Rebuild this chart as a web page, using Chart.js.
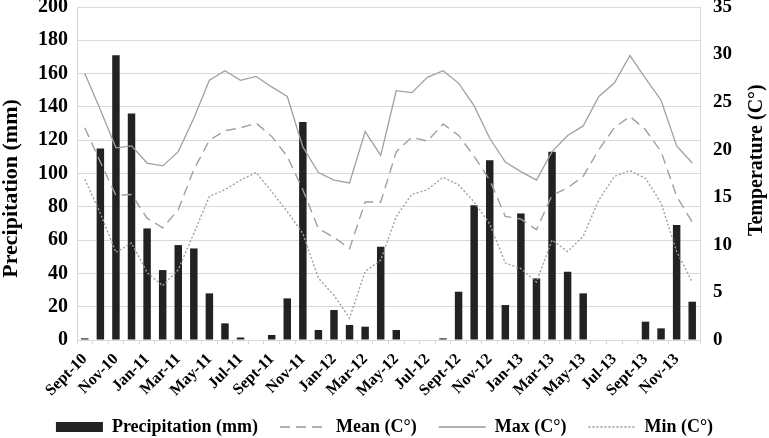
<!DOCTYPE html>
<html>
<head>
<meta charset="utf-8">
<script src="https://cdn.jsdelivr.net/npm/chart.js@4.4.1/dist/chart.umd.min.js"></script>
<style>
  html, body { margin: 0; padding: 0; background: #fff; }
</style>
</head>
<body>
<canvas id="climate" width="769" height="438"></canvas>
<script>
// monthly series, Sept-10 .. Dec-13
const months = [
  'Sept-10','Oct-10','Nov-10','Dec-10',
  'Jan-11','Feb-11','Mar-11','Apr-11','May-11','Jun-11','Jul-11','Aug-11','Sept-11','Oct-11','Nov-11','Dec-11',
  'Jan-12','Feb-12','Mar-12','Apr-12','May-12','Jun-12','Jul-12','Aug-12','Sept-12','Oct-12','Nov-12','Dec-12',
  'Jan-13','Feb-13','Mar-13','Apr-13','May-13','Jun-13','Jul-13','Aug-13','Sept-13','Oct-13','Nov-13','Dec-13'
];
const precipitation = [1,115,171,136, 67,42,57,55,28,10,1.5,0,3,25,131,6, 18,9,8,56,6,0,0,1,29,81,108,21, 76,37,113,41,28,0,0,0,11,7,69,23];
const tMean = [22.3,18.7,15.2,15.3, 12.8,11.8,13.7,17.9,21.0,22.0,22.3,22.8,21.4,19.3,15.8,11.7, 10.8,9.6,14.5,14.5,19.8,21.3,20.9,22.7,21.5,19.3,16.8,13.0, 12.7,11.6,15.2,16.0,17.2,20.0,22.3,23.5,22.1,19.8,15.1,12.4];
const tMax  = [28.0,24.2,20.2,20.4, 18.6,18.3,19.8,23.3,27.3,28.3,27.3,27.7,26.6,25.6,20.3,17.6, 16.8,16.5,21.9,19.4,26.2,26.0,27.6,28.3,27.0,24.6,21.2,18.7, 17.7,16.8,19.8,21.5,22.5,25.6,27.0,29.9,27.5,25.2,20.4,18.6];
const tMin  = [16.9,13.3,9.2,10.2, 7.1,5.7,7.4,11.2,15.1,15.8,16.8,17.6,15.6,13.5,11.2,6.5, 4.7,2.3,7.2,8.4,13.0,15.3,15.8,17.1,16.3,14.5,12.2,8.1, 7.5,6.1,10.5,9.3,10.9,14.7,17.2,17.8,17.0,14.4,9.3,6.1];

const SERIF = "'Liberation Serif', 'Times New Roman', serif";
const GRID = '#d9d9d9';
const LINE = '#a0a0a0';

// axis titles: both read bottom-to-top like the original
const axisTitles = {
  id: 'axisTitles',
  afterDraw(chart) {
    const { ctx, chartArea } = chart;
    const h = chartArea.bottom - chartArea.top;
    ctx.save();
    ctx.fillStyle = '#000';
    ctx.textAlign = 'center';
    ctx.textBaseline = 'middle';
    ctx.font = 'bold 22px ' + SERIF;
    ctx.translate(11, chartArea.top + h * 0.545);
    ctx.rotate(-Math.PI / 2);
    ctx.fillText('Precipitation (mm)', 0, 0);
    ctx.restore();
    ctx.save();
    ctx.fillStyle = '#000';
    ctx.textAlign = 'center';
    ctx.textBaseline = 'middle';
    ctx.font = 'bold 20px ' + SERIF;
    ctx.translate(chart.width - 12, chartArea.top + h * 0.46);
    ctx.rotate(-Math.PI / 2);
    ctx.fillText('Temperature (C\u00B0)', 0, 0);
    ctx.restore();
  }
};

// legend samples: keep the dash pattern of each line
const legendLabels = chart => {
  const items = Chart.defaults.plugins.legend.labels.generateLabels(chart);
  items.forEach(it => {
    const ds = chart.data.datasets[it.datasetIndex];
    if (ds.type === 'line') {
      it.lineDash = ds.borderDash || [];
      it.lineWidth = 2;
      it.strokeStyle = '#b0b0b0';
    }
  });
  return items.sort((a, b) => a.datasetIndex - b.datasetIndex);
};

new Chart(document.getElementById('climate'), {
  data: {
    labels: months,
    datasets: [
      { type: 'bar', label: 'Precipitation (mm)', data: precipitation, yAxisID: 'y',
        backgroundColor: '#222', borderWidth: 0, barPercentage: 0.48, categoryPercentage: 1,
        pointStyle: 'rect', order: 2 },
      { type: 'line', label: 'Mean (C\u00B0)', data: tMean, yAxisID: 'y1',
        borderColor: LINE, borderWidth: 1.4, borderDash: [10, 6], pointRadius: 0, tension: 0,
        pointStyle: 'line', order: 1 },
      { type: 'line', label: 'Max (C\u00B0)', data: tMax, yAxisID: 'y1',
        borderColor: LINE, borderWidth: 1.3, pointRadius: 0, tension: 0,
        pointStyle: 'line', order: 1 },
      { type: 'line', label: 'Min (C\u00B0)', data: tMin, yAxisID: 'y1',
        borderColor: LINE, borderWidth: 1.4, borderDash: [2, 2], pointRadius: 0, tension: 0,
        pointStyle: 'line', order: 1 }
    ]
  },
  options: {
    responsive: false,
    devicePixelRatio: 1,
    animation: false,
    layout: { padding: { left: 0, right: 0, top: 7, bottom: -8 } },
    plugins: {
      tooltip: { enabled: false },
      legend: {
        position: 'bottom',
        labels: {
          color: '#000', font: { family: SERIF, size: 18, weight: 'bold' },
          usePointStyle: true, pointStyleWidth: 47, boxHeight: 10, padding: 22,
          generateLabels: legendLabels
        }
      }
    },
    scales: {
      x: {
        grid: { display: true, drawOnChartArea: false, color: GRID, tickLength: 4, offset: true },
        border: { color: GRID },
        ticks: {
          color: '#000', font: { family: SERIF, size: 16, weight: 'bold' },
          autoSkip: false, maxRotation: 45, minRotation: 45, padding: 6,
          callback: (v, i) => i % 2 === 0 ? months[i] : ''
        },
        afterFit: s => { s.height = 56; }
      },
      y: {
        position: 'left', min: 0, max: 200,
        ticks: { stepSize: 20, color: '#000', font: { family: SERIF, size: 20, weight: 'bold' }, padding: 9 },
        grid: { color: GRID, drawTicks: false },
        border: { color: GRID },
        afterFit: s => { s.width = 77; s.paddingTop = 0; s.paddingBottom = 0; }
      },
      y1: {
        position: 'right', min: 0, max: 35,
        ticks: { stepSize: 5, color: '#000', font: { family: SERIF, size: 19, weight: 'bold' }, padding: 13 },
        grid: { drawOnChartArea: false, drawTicks: false },
        border: { color: GRID },
        afterFit: s => { s.width = 69; s.paddingTop = 0; s.paddingBottom = 0; }
      }
    }
  },
  plugins: [axisTitles]
});
</script>
</body>
</html>
